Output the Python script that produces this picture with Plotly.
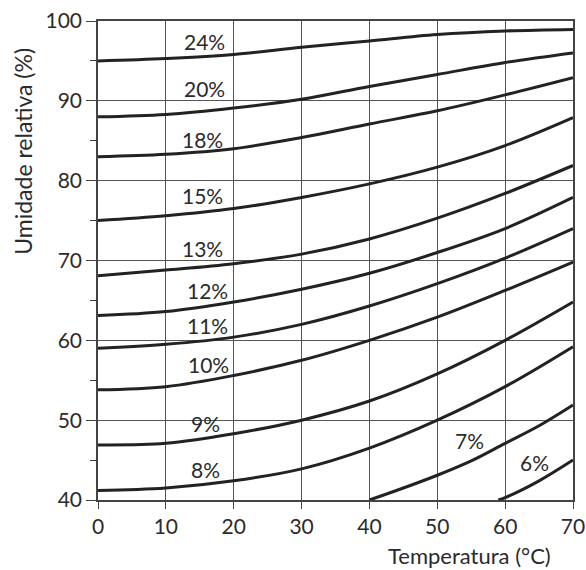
import plotly.graph_objects as go

temps = [0, 10, 20, 30, 40, 50, 60, 70]

curve_names = ["24%", "20%", "18%", "15%", "13%", "12%", "11%", "10%", "9%", "8%"]
rh_24 = [95.0, 95.3, 95.8, 96.7, 97.5, 98.3, 98.75, 98.95]
rh_20 = [88.0, 88.3, 89.1, 90.2, 91.8, 93.3, 94.8, 96.0]
rh_18 = [83.0, 83.3, 84.0, 85.4, 87.1, 88.75, 90.75, 92.9]
rh_15 = [75.0, 75.6, 76.5, 77.9, 79.6, 81.7, 84.4, 87.9]
rh_13 = [68.1, 68.8, 69.6, 70.8, 72.7, 75.3, 78.4, 81.9]
rh_12 = [63.1, 63.6, 64.8, 66.4, 68.4, 71.0, 74.0, 77.9]
rh_11 = [59.0, 59.5, 60.4, 62.0, 64.3, 67.1, 70.3, 74.0]
rh_10 = [53.8, 54.2, 55.6, 57.5, 60.0, 62.9, 66.25, 69.8]
rh_9 = [46.9, 47.1, 48.3, 50.0, 52.4, 55.8, 60.0, 64.8]
rh_8 = [41.2, 41.5, 42.4, 43.9, 46.5, 50.0, 54.2, 59.2]

temps_7 = [40, 45, 50, 55, 60, 65, 70]
rh_7 = [40.0, 41.5, 43.1, 44.9, 47.1, 49.3, 51.9]
temps_6 = [59, 60, 65, 70]
rh_6 = [40.0, 40.3, 42.4, 45.0]

label_text = ["24%", "20%", "18%", "15%", "13%", "12%", "11%", "10%", "9%", "8%", "7%", "6%"]
label_x = [15.7, 15.7, 15.4, 15.4, 15.4, 16.1, 16.1, 16.3, 15.9, 15.9, 54.7, 64.3]
label_y = [97.4, 91.5, 85.1, 78.1, 71.5, 66.3, 61.9, 57.0, 49.6, 43.8, 47.5, 44.75]

x_ticks = [0, 10, 20, 30, 40, 50, 60, 70]
y_ticks = [40, 50, 60, 70, 80, 90, 100]

FONT = "Lato, 'Liberation Sans', sans-serif"
TXT = "#2b2b2b"
LINE = dict(color="#222222", width=3, shape="spline", smoothing=1.0)

fig = go.Figure()
series = [rh_24, rh_20, rh_18, rh_15, rh_13, rh_12, rh_11, rh_10, rh_9, rh_8]
for name, vals in zip(curve_names, series):
    fig.add_trace(go.Scatter(x=temps, y=vals, mode="lines", name=name,
                             line=LINE, hoverinfo="skip"))
fig.add_trace(go.Scatter(x=temps_7, y=rh_7, mode="lines", name="7%", line=LINE, hoverinfo="skip"))
fig.add_trace(go.Scatter(x=temps_6, y=rh_6, mode="lines", name="6%", line=LINE, hoverinfo="skip"))

for t, x, y in zip(label_text, label_x, label_y):
    fig.add_annotation(x=x, y=y, text=t, showarrow=False,
                       font=dict(family=FONT, size=21, color=TXT),
                       xanchor="center", yanchor="middle")

fig.add_annotation(xref="paper", yref="paper", x=1, y=0, xshift=-20, yshift=-55,
                   text="Temperatura (°C)", showarrow=False,
                   font=dict(family=FONT, size=22, color=TXT),
                   xanchor="right", yanchor="middle")
fig.add_annotation(xref="paper", yref="paper", x=0, y=0.727, xshift=-75, yshift=0,
                   text="Umidade relativa (%)", showarrow=False, textangle=-90,
                   font=dict(family=FONT, size=23, color=TXT),
                   xanchor="center", yanchor="middle")

fig.update_xaxes(range=[0, 70], tickvals=x_ticks, ticktext=[str(v) for v in x_ticks],
                 showgrid=True, gridcolor="#555555", gridwidth=1.3, automargin=False,
                 showline=True, linecolor="#444444", linewidth=1.5, mirror=True,
                 ticks="outside", ticklen=7, tickwidth=1.3, tickcolor="#444444",
                 tickfont=dict(family=FONT, size=21, color=TXT), zeroline=False)
fig.update_yaxes(range=[40, 100], tickvals=y_ticks, ticktext=[str(v) for v in y_ticks],
                 showgrid=True, gridcolor="#555555", gridwidth=1.3, automargin=False,
                 showline=True, linecolor="#444444", linewidth=1.5, mirror=True,
                 ticks="outside", ticklen=10, tickwidth=1.3, tickcolor="#444444",
                 minor=dict(dtick=5, tick0=0, ticks="outside", ticklen=6, tickwidth=1.2,
                            tickcolor="#444444", showgrid=False),
                 tickfont=dict(family=FONT, size=21, color=TXT), zeroline=False)

fig.update_layout(width=586, height=570, showlegend=False,
                  margin=dict(l=98, r=13, t=21, b=70, autoexpand=False),
                  plot_bgcolor="white", paper_bgcolor="white")

fig.write_html("out.html", config={"displayModeBar": False},
               post_script="document.body.style.margin='0';document.body.style.overflow='hidden';")
